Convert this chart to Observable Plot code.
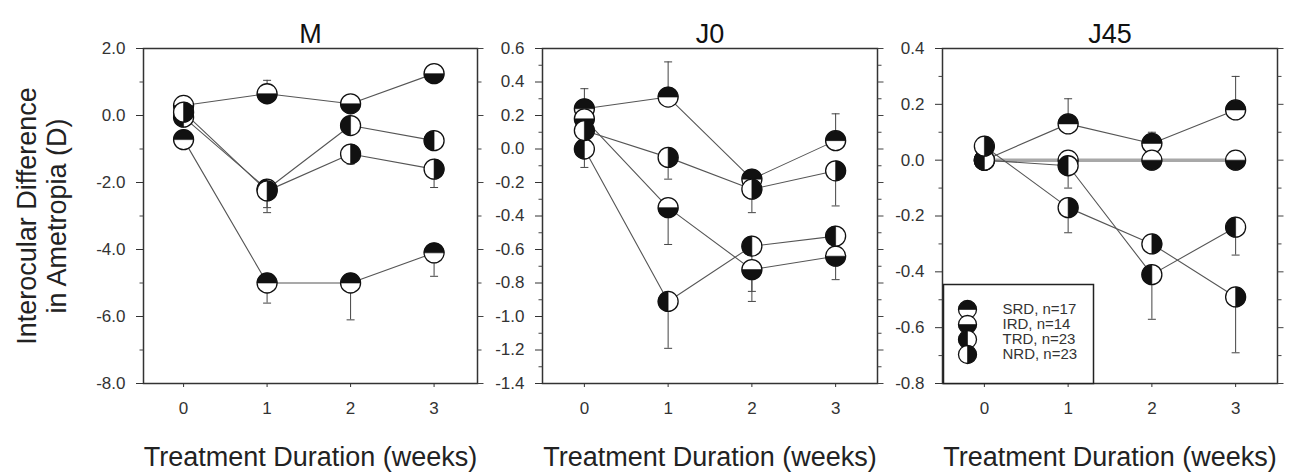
<!DOCTYPE html>
<html><head><meta charset="utf-8">
<script src="https://cdn.jsdelivr.net/npm/d3@7"></script>
<script src="https://cdn.jsdelivr.net/npm/@observablehq/plot@0.6"></script>
<style>
body{margin:0;background:#fff;}
#chart{position:relative;width:1291px;height:474px;overflow:hidden;background:#fff;font-family:"Liberation Sans",Arial,sans-serif;}
#chart svg{position:absolute;overflow:visible;}
</style></head><body><div id="chart"></div>
<script>
// ---------- data ----------
const weeks = [0, 1, 2, 3];
const groups = ["SRD", "IRD", "TRD", "NRD"];
const legendLabels = ["SRD, n=17", "IRD, n=14", "TRD, n=23", "NRD, n=23"];
const panelTitles = ["M", "J0", "J45"];
const xLabel = "Treatment Duration (weeks)";
const yLabel = "Interocular Difference\nin Ametropia (D)";

// Panel M  (mean per week, and end of the error bar)
const mSRD = [-0.72, -5.0, -5.0, -4.1];
const mIRD = [0.3, 0.65, 0.35, 1.25];
const mTRD = [-0.05, -2.2, -0.3, -0.75];
const mNRD = [0.1, -2.25, -1.15, -1.6];
const mSRDerr = [-0.9, -5.6, -6.1, -4.8];
const mIRDerr = [0.5, 1.05, 0.5, 1.4];
const mTRDerr = [null, -2.9, null, null];
const mNRDerr = [null, -2.75, -1.45, -2.15];
const mTicks = [2, 0, -2, -4, -6, -8];
const mMinor = [1, -1, -3, -5, -7];

// Panel J0
const j0SRD = [0.24, 0.31, -0.18, 0.05];
const j0IRD = [0.18, -0.35, -0.72, -0.64];
const j0TRD = [0.0, -0.91, -0.58, -0.52];
const j0NRD = [0.11, -0.05, -0.24, -0.13];
const j0SRDerr = [0.36, 0.52, null, 0.21];
const j0IRDerr = [null, -0.57, -0.91, -0.78];
const j0TRDerr = [-0.11, -1.19, -0.85, null];
const j0NRDerr = [null, -0.18, -0.38, -0.34];
const j0Ticks = [0.6, 0.4, 0.2, 0.0, -0.2, -0.4, -0.6, -0.8, -1.0, -1.2, -1.4];
const j0Minor = [0.5, 0.3, 0.1, -0.1, -0.3, -0.5, -0.7, -0.9, -1.1, -1.3];

// Panel J45
const j45SRD = [0.0, 0.13, 0.06, 0.18];
const j45IRD = [0.0, 0.0, 0.0, 0.0];
const j45TRD = [0.0, -0.02, -0.41, -0.24];
const j45NRD = [0.05, -0.17, -0.30, -0.49];
const j45SRDerr = [null, 0.22, 0.1, 0.3];
const j45IRDerr = [null, null, null, null];
const j45TRDerr = [null, -0.1, -0.57, -0.34];
const j45NRDerr = [null, -0.26, null, -0.69];
const j45Ticks = [0.4, 0.2, 0.0, -0.2, -0.4, -0.6, -0.8];
const j45Minor = [0.3, 0.1, -0.1, -0.3, -0.5, -0.7];

// ---------- helpers ----------
const PI = Math.PI;
function half(a0, a1) {
  return {draw(ctx, size) {
    const r = Math.sqrt(size / PI);
    ctx.moveTo(r * Math.cos(a0), r * Math.sin(a0));
    ctx.arc(0, 0, r, a0, a1);
    ctx.closePath();
  }};
}
const halfSym = {SRD: half(PI, 2 * PI), IRD: half(0, PI), TRD: half(PI / 2, 3 * PI / 2), NRD: half(-PI / 2, PI / 2)};
const seg = (a, b) => ({draw(ctx) { ctx.moveTo(a, 0); ctx.lineTo(b, 0); }});
const capSym = seg(-4, 4);
const leftMinorSym = seg(-4, 0);
const rightMajorSym = seg(0, 6);
const rightMinorSym = seg(0, 4);

function rows(vals, errs) {
  return groups.flatMap((g, i) => weeks.map((w, j) => ({group: g, week: w, value: vals[i][j], err: errs[i][j]})));
}

const fmt = d => Math.abs(d) < 1e-9 ? "0.0" : d.toFixed(1);
const FONT = '"Liberation Sans", Arial, sans-serif';
const R = 10;

function panel({title, data, yDomain, yTicks, yMinor, xDomain, left, width, marginLeft, marginRight, yLab, zeroBand}) {
  const marks = [
    Plot.frame({stroke: "#333", strokeWidth: 1.5}),
    Plot.dot(yMinor, {y: d => d, frameAnchor: "left", symbol: leftMinorSym, stroke: "#444", fill: "none", strokeWidth: 1}),
    Plot.dot(yTicks, {y: d => d, frameAnchor: "right", symbol: rightMajorSym, stroke: "#444", fill: "none", strokeWidth: 1}),
    Plot.dot(yMinor, {y: d => d, frameAnchor: "right", symbol: rightMinorSym, stroke: "#444", fill: "none", strokeWidth: 1}),
  ];
  let lineData = data;
  if (zeroBand) {
    marks.push(Plot.line(data.filter(d => d.group === "IRD"), {x: "week", y: "value", stroke: "#a8a8a8", strokeWidth: 3.5}));
    lineData = data.filter(d => d.group !== "IRD");
  }
  marks.push(
    Plot.line(lineData, {x: "week", y: "value", z: "group", stroke: "#555", strokeWidth: 1.1}),
    Plot.ruleX(data.filter(d => d.err != null), {x: "week", y1: "value", y2: "err", stroke: "#444", strokeWidth: 1}),
    Plot.dot(data.filter(d => d.err != null), {x: "week", y: "err", symbol: capSym, stroke: "#444", fill: "none", strokeWidth: 1})
  );
  for (const g of groups) {
    const sub = data.filter(d => d.group === g);
    marks.push(
      Plot.dot(sub, {x: "week", y: "value", r: R, fill: "white", stroke: "#111", strokeWidth: 1.3}),
      Plot.dot(sub, {x: "week", y: "value", r: R, symbol: halfSym[g], fill: "#111", stroke: "#111", strokeWidth: 0.6})
    );
  }
  marks.push(
    Plot.text([title], {text: d => d, frameAnchor: "top", lineAnchor: "bottom", dy: -6, fontSize: 27, fill: "#111"}),
    Plot.text([xLabel], {text: d => d, frameAnchor: "bottom", lineAnchor: "bottom", dy: 82, fontSize: 27, fill: "#222"})
  );
  if (yLab) {
    marks.push(Plot.text([yLabel], {text: d => d, frameAnchor: "left", textAnchor: "middle", lineAnchor: "middle", rotate: -90, dx: -102, fontSize: 27, lineHeight: 1.1, fill: "#222"}));
  }
  const svg = Plot.plot({
    width, height: 474,
    marginLeft, marginRight, marginTop: 48, marginBottom: 91,
    style: {fontFamily: FONT, fontSize: "17px", color: "#333", background: "transparent", overflow: "visible"},
    x: {domain: xDomain, ticks: weeks, tickFormat: d => String(d), tickSize: 4, tickPadding: 14, label: null},
    y: {domain: yDomain, ticks: yTicks, tickFormat: fmt, tickSize: 7, tickPadding: 11, label: null},
    marks
  });
  svg.style.left = left + "px";
  svg.style.top = "0px";
  return svg;
}

const chart = document.getElementById("chart");

chart.appendChild(panel({
  title: panelTitles[0], data: rows([mSRD, mIRD, mTRD, mNRD], [mSRDerr, mIRDerr, mTRDerr, mNRDerr]),
  yDomain: [-8, 2], yTicks: mTicks, yMinor: mMinor, xDomain: [-0.48, 3.52],
  left: 0, width: 500, marginLeft: 143, marginRight: 23, yLab: true
}));
chart.appendChild(panel({
  title: panelTitles[1], data: rows([j0SRD, j0IRD, j0TRD, j0NRD], [j0SRDerr, j0IRDerr, j0TRDerr, j0NRDerr]),
  yDomain: [-1.4, 0.6], yTicks: j0Ticks, yMinor: j0Minor, xDomain: [-0.5, 3.5],
  left: 480, width: 420, marginLeft: 62, marginRight: 23
}));
chart.appendChild(panel({
  title: panelTitles[2], data: rows([j45SRD, j45IRD, j45TRD, j45NRD], [j45SRDerr, j45IRDerr, j45TRDerr, j45NRDerr]),
  yDomain: [-0.8, 0.4], yTicks: j45Ticks, yMinor: j45Minor, xDomain: [-0.5, 3.5],
  left: 880, width: 411, marginLeft: 62, marginRight: 14, zeroBand: true
}));

// ---------- legend ----------
const legendMarks = [
  Plot.frame({stroke: "#222", strokeWidth: 1.5}),
  Plot.text(legendLabels, {y: (d, i) => groups[i], text: d => d, frameAnchor: "left", dx: 59, textAnchor: "start", fontSize: 15, fill: "#333"})
];
for (const g of groups) {
  legendMarks.push(
    Plot.dot([g], {y: d => d, frameAnchor: "left", dx: 24, r: 9, fill: "white", stroke: "#111", strokeWidth: 1.3}),
    Plot.dot([g], {y: d => d, frameAnchor: "left", dx: 24, r: 9, symbol: halfSym[g], fill: "#111", stroke: "#111", strokeWidth: 0.6})
  );
}
const legend = Plot.plot({
  width: 150, height: 99, margin: 0,
  style: {fontFamily: FONT, background: "white", overflow: "visible"},
  y: {type: "point", domain: groups, range: [16, 79], axis: null},
  marks: legendMarks
});
legend.style.left = "943px";
legend.style.top = "284px";
chart.appendChild(legend);
</script></body></html>
